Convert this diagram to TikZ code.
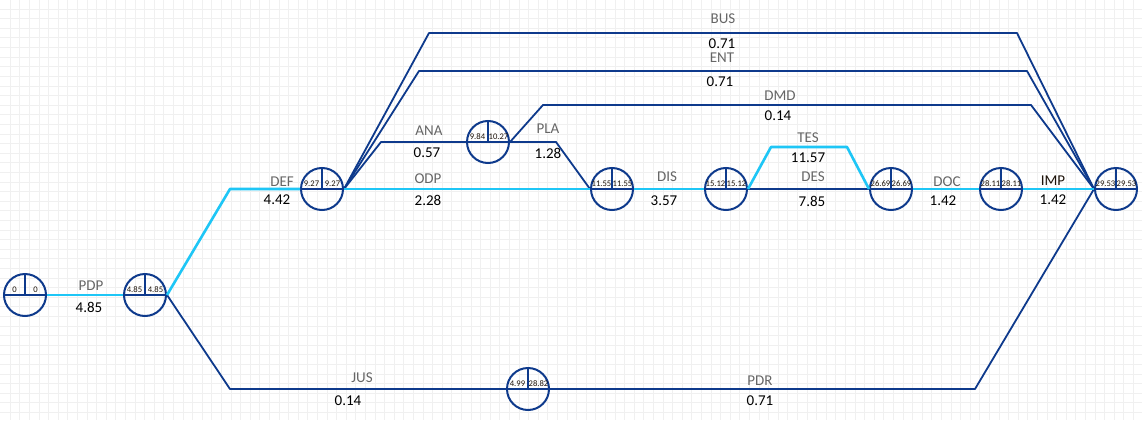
\documentclass[tikz,border=0pt]{standalone}
\usepackage{fontspec}
\setmainfont{Carlito}
\definecolor{navy}{HTML}{0E3A8C}
\definecolor{sky}{HTML}{1EC6F6}
\definecolor{lblgray}{HTML}{666666}
\definecolor{gridgray}{HTML}{F0F0F0}
\newcommand\lblsz{\fontsize{15}{17}\selectfont}
\newcommand\evt[4]{%
\node[evt] (#1) at (#2) {};
\draw[dk] (#1.west) -- (#1.east) (#1.north) -- (#1.center);
\node[num] (#1a) at ([shift={(-10.5pt,5.5pt)}]#1.center) {#3};
\node[num] (#1b) at ([shift={(10.5pt,5.5pt)}]#1.center) {#4};
}

\begin{document}
\begin{tikzpicture}[x=1pt,y=-1pt,
  evt/.style={circle,draw=navy,line width=2pt,minimum size=42pt,inner sep=0pt},
  dk/.style={draw=navy,line width=1.8pt,line join=round},
  lt/.style={draw=sky,line width=2.6pt,line join=round},
  num/.style={font=\fontsize{8.6}{9}\selectfont,text=black!85!brown,inner sep=0pt},
  act/.style={font=\lblsz,text=lblgray,inner sep=0pt},
  dur/.style={font=\lblsz,text=black,inner sep=0pt}]
\useasboundingbox (0,0) rectangle (1142,420);
\fill[white] (0,0) rectangle (1142,420);
% grid
\foreach\i in{0,...,118} \draw[gridgray,line width=0.6pt] (\i*9.6+10,0) -- (\i*9.6+10,420);
\foreach\j in{0,...,43} \draw[gridgray,line width=0.6pt] (0,\j*9.6+9) -- (1142,\j*9.6+9);
% events
\evt{n0}{25,295}{0}{0}
\evt{n1}{145,295}{4.85}{4.85}
\evt{n2}{322,189}{9.27}{9.27}
\evt{n3}{488,142}{9.84}{10.27}
\evt{n4}{612,189}{11.55}{11.55}
\evt{n5}{726,189}{15.12}{15.12}
\evt{n6}{891,189}{26.69}{26.69}
\evt{n7}{1001,189}{28.11}{28.11}
\evt{n8}{1116,189}{29.53}{29.53}
\evt{n9}{528,389}{4.99}{28.82}
% bends
\coordinate (cDEF) at (230,189);
\coordinate (cJUS) at (230,389);
\coordinate (cPDR) at (975,389);
\coordinate (cBUS1) at (429,33);
\coordinate (cBUS2) at (1017,33);
\coordinate (cENT1) at (419,71);
\coordinate (cENT2) at (1027,71);
\coordinate (cANA) at (381,142);
\coordinate (cPLA) at (556,142);
\coordinate (cDMD1) at (543,105);
\coordinate (cDMD2) at (1031,105);
\coordinate (cTES1) at (771,147);
\coordinate (cTES2) at (847,147);
% activities
\draw[dk] (n1.east) -- (cJUS) -- (n9.west);
\draw[dk] (n9.east) -- (cPDR) -- (n8.west);
\draw[dk] (n2.east) -- (cBUS1) -- (cBUS2) -- (n8.west);
\draw[dk] (n2.east) -- (cENT1) -- (cENT2) -- (n8.west);
\draw[dk] (n2.east) -- (cANA) -- (n3.west);
\draw[dk] (n3.east) -- (cPLA) -- (n4.west);
\draw[dk] (n3.east) -- (cDMD1) -- (cDMD2) -- (n8.west);
\draw[dk] (n5) -- (n6);
% critical path
\draw[lt] (n0) -- (n1);
\draw[lt] (n1.east) -- (cDEF) -- (n2.west);
\draw[lt] (n2) -- (n4);
\draw[lt] (n4) -- (n5);
\draw[lt] (n5.east) -- (cTES1) -- (cTES2) -- (n6.west);
\draw[lt] (n6) -- (n7);
\draw[lt] (n7) -- (n8);
% labels
\foreach\n/\x/\y/\d/\xx/\yy in{PDP/91/286/4.85/89/307, DEF/282/182/4.42/277/200,
  ODP/428/179/2.28/428/200, ANA/429/131/0.57/427/153, PLA/548/129/1.28/548/153,
  DIS/667/177/3.57/664/201, TES/808/138/11.57/808/158, DES/813/177/7.85/812/201,
  DOC/947/182/1.42/943/201, BUS/723/19/0.71/722/44, ENT/722/58/0.71/720/82,
  DMD/780/96/0.14/778/116, JUS/362/378/0.14/348/401, PDR/760/381/0.71/760/401}
{\node[act] (l\n) at (\x,\y) {\n};
 \node[dur] (d\n) at (\xx,\yy) {\d};}
\node[act,text=black!85!brown] (lIMP) at (1053,181) {IMP};
\node[dur] (dIMP) at (1053,200) {1.42};
\end{tikzpicture}
\end{document}
